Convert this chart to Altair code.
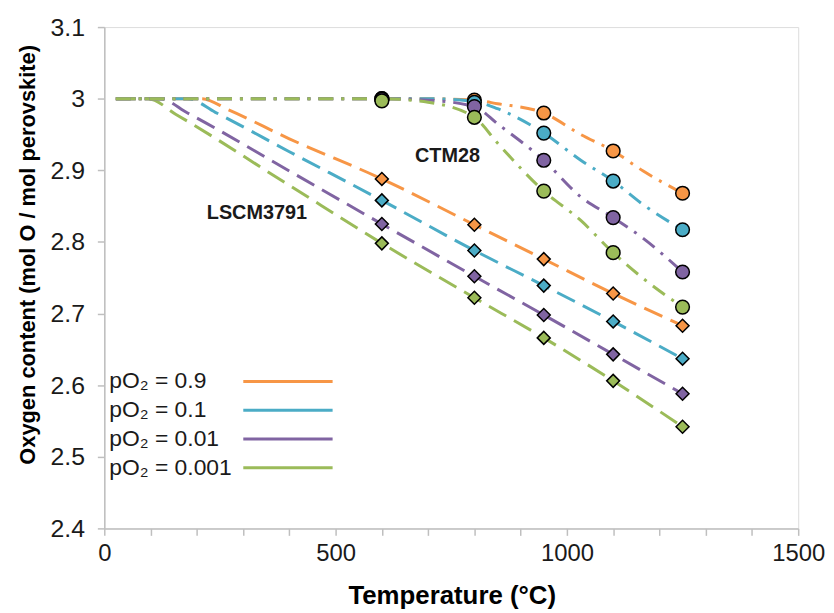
import altair as alt
import pandas as pd

# ---------------- data ----------------
series = ["pO₂ = 0.9", "pO₂ = 0.1", "pO₂ = 0.01", "pO₂ = 0.001"]
colors = ["#F79646", "#4BACC6", "#8064A2", "#9BBB59"]

# measured points (markers)
marker_T = [600, 800, 950, 1100, 1250]
ctm28_09 = [3.000, 2.998, 2.980, 2.927, 2.868]
ctm28_01 = [3.000, 2.995, 2.952, 2.885, 2.817]
ctm28_001 = [2.999, 2.989, 2.914, 2.834, 2.758]
ctm28_0001 = [2.997, 2.974, 2.871, 2.785, 2.709]

lscm_09 = [2.888, 2.824, 2.776, 2.728, 2.683]
lscm_01 = [2.858, 2.788, 2.739, 2.689, 2.637]
lscm_001 = [2.825, 2.752, 2.698, 2.643, 2.588]
lscm_0001 = [2.798, 2.722, 2.666, 2.606, 2.542]

# model curves (CTM28, dash-dot)
ctm_line_T = [25, 600, 700, 800, 850, 950, 1030, 1100, 1165, 1250]
ctm_line_09 = [3.0, 3.0, 3.0, 2.998, 2.993, 2.980, 2.950, 2.927, 2.899, 2.868]
ctm_line_01 = [3.0, 3.0, 3.0, 2.996, 2.986, 2.952, 2.914, 2.885, 2.852, 2.817]
ctm_line_001 = [3.0, 3.0, 2.998, 2.989, 2.965, 2.914, 2.863, 2.834, 2.805, 2.758]
ctm_line_0001 = [3.0, 3.0, 2.995, 2.974, 2.938, 2.871, 2.830, 2.785, 2.749, 2.709]

# model curves (LSCM3791, dashed): flat start, bend, then through the points
lscm_line_T_09 = [25, 210, 270, 400, 600, 800, 950, 1100, 1250]
lscm_line_09 = [3.0, 3.0, 2.984, 2.944, 2.888, 2.824, 2.776, 2.728, 2.683]
lscm_line_T_01 = [25, 180, 240, 400, 600, 800, 950, 1100, 1250]
lscm_line_01 = [3.0, 3.0, 2.981, 2.926, 2.858, 2.788, 2.739, 2.689, 2.637]
lscm_line_T_001 = [25, 120, 180, 400, 600, 800, 950, 1100, 1250]
lscm_line_001 = [3.0, 3.0, 2.980, 2.899, 2.825, 2.752, 2.698, 2.643, 2.588]
lscm_line_T_0001 = [25, 95, 155, 400, 600, 800, 950, 1100, 1250]
lscm_line_0001 = [3.0, 3.0, 2.978, 2.879, 2.798, 2.722, 2.666, 2.606, 2.542]

annot_text = ["CTM28", "LSCM3791"]
annot_T = [742, 330]
annot_val = [2.920, 2.841]

# ---------------- tables ----------------
ctm_pts = [ctm28_09, ctm28_01, ctm28_001, ctm28_0001]
lscm_pts = [lscm_09, lscm_01, lscm_001, lscm_0001]
ctm_lines = [ctm_line_09, ctm_line_01, ctm_line_001, ctm_line_0001]
lscm_Ts = [lscm_line_T_09, lscm_line_T_01, lscm_line_T_001, lscm_line_T_0001]
lscm_lines = [lscm_line_09, lscm_line_01, lscm_line_001, lscm_line_0001]

rows_ctm_line, rows_lscm_line, rows_ctm_pt, rows_lscm_pt = [], [], [], []
for i, s in enumerate(series):
    for t, v in zip(ctm_line_T, ctm_lines[i]):
        rows_ctm_line.append({"T": t, "O": v, "series": s, "ord": i})
    for t, v in zip(lscm_Ts[i], lscm_lines[i]):
        rows_lscm_line.append({"T": t, "O": v, "series": s, "ord": i})
    for t, v in zip(marker_T, ctm_pts[i]):
        rows_ctm_pt.append({"T": t, "O": v, "series": s, "ord": i})
    for t, v in zip(marker_T, lscm_pts[i]):
        rows_lscm_pt.append({"T": t, "O": v, "series": s, "ord": i})

df_ctm_line = pd.DataFrame(rows_ctm_line)
df_lscm_line = pd.DataFrame(rows_lscm_line)
df_ctm_pt = pd.DataFrame(rows_ctm_pt)
df_lscm_pt = pd.DataFrame(rows_lscm_pt)
df_annot = pd.DataFrame({"T": annot_T, "O": annot_val, "text": annot_text})

FONT = "Liberation Sans"
y_ticks = [round(2.4 + 0.05 * k, 2) for k in range(15)]
x_ticks = list(range(0, 1501, 100))

x_enc = alt.X(
    "T:Q",
    scale=alt.Scale(domain=[0, 1500], nice=False),
    axis=alt.Axis(
        title="Temperature (°C)",
        values=x_ticks,
        labelExpr="datum.value % 500 == 0 ? '' + datum.value : ''",
        grid=False,
        tickSize=7,
        labelPadding=6,
        labelFontSize=24,
        labelFont=FONT,
        labelColor="#1a1a1a",
        titleFont=FONT,
        titleFontSize=26,
        titleFontWeight="bold",
        titleColor="#000000",
        titleX=350,
        titleY=76,
        titleBaseline="alphabetic",
        titleAlign="center",
        domainColor="#bfbfbf",
        tickColor="#bfbfbf",
        domainWidth=1.5,
        tickWidth=1.5,
        labelFlush=False,
        labelOverlap=False,
    ),
)
y_enc = alt.Y(
    "O:Q",
    scale=alt.Scale(domain=[2.4, 3.1], nice=False, zero=False),
    axis=alt.Axis(
        title="Oxygen content (mol O / mol perovskite)",
        values=y_ticks,
        labelExpr="round(datum.value * 100) % 10 == 0 ? '' + datum.value : ''",
        grid=False,
        tickSize=7,
        labelPadding=13,
        labelFontSize=25,
        labelFont=FONT,
        labelColor="#1a1a1a",
        titleFont=FONT,
        titleFontSize=22,
        titleFontWeight="bold",
        titleColor="#000000",
        titleX=-77,
        titleY=229,
        titleAngle=270,
        titleBaseline="middle",
        titleAlign="center",
        domainColor="#bfbfbf",
        tickColor="#bfbfbf",
        domainWidth=1.5,
        tickWidth=1.5,
        labelFlush=False,
        labelOverlap=False,
    ),
)

color_scale = alt.Scale(domain=series, range=colors)

legend = alt.Legend(
    title=None,
    orient="none",
    legendX=5,
    legendY=344,
    symbolType="M-4,0L4,0",
    symbolSize=506,
    symbolStrokeWidth=3,
    symbolDash=[1, 0],
    symbolOffset=167,
    labelOffset={"expr": "-193"},
    labelFontSize=23,
    labelFont=FONT,
    labelColor="#1a1a1a",
    rowPadding=4,
    padding=0,
)

color_enc = alt.Color("series:N", scale=color_scale, legend=legend, sort=series)

ctm_lines_layer = alt.Chart(df_ctm_line).mark_line(
    strokeWidth=3, strokeDash=[15, 8, 3, 8], interpolate="monotone"
).encode(
    x=x_enc,
    y=y_enc,
    color=color_enc,
    detail="series:N",
    order="T:Q",
)

lscm_lines_layer = alt.Chart(df_lscm_line).mark_line(
    strokeWidth=3, strokeDash=[20, 9], interpolate="monotone"
).encode(
    x="T:Q",
    y="O:Q",
    color=color_enc,
    detail="series:N",
    order="T:Q",
)

ctm_pts_layer = alt.Chart(df_ctm_pt).mark_point(
    shape="circle", filled=True, size=190, stroke="#000000", strokeWidth=1.5, opacity=1
).encode(
    x="T:Q",
    y="O:Q",
    fill=alt.Fill("series:N", scale=color_scale, legend=None),
    order="ord:Q",
)

lscm_pts_layer = alt.Chart(df_lscm_pt).mark_point(
    shape="diamond", filled=True, size=170, stroke="#000000", strokeWidth=1.5, opacity=1
).encode(
    x="T:Q",
    y="O:Q",
    fill=alt.Fill("series:N", scale=color_scale, legend=None),
    order="ord:Q",
)

annot_layer = alt.Chart(df_annot).mark_text(
    font=FONT, fontSize=20, fontWeight="bold", color="#1a1a1a", align="center", baseline="middle"
).encode(x="T:Q", y="O:Q", text="text:N")

chart = (
    alt.layer(lscm_lines_layer, ctm_lines_layer, lscm_pts_layer, ctm_pts_layer, annot_layer)
    .properties(
        width=699,
        height=505,
        autosize=alt.AutoSizeParams(type="none"),
        padding={"left": 97, "top": 17, "right": 28, "bottom": 82},
    )
    .configure_view(stroke="#bfbfbf", strokeWidth=1.5)
    .configure(background="white")
)

chart.save("out.html", embed_options={"renderer": "svg", "actions": False})
